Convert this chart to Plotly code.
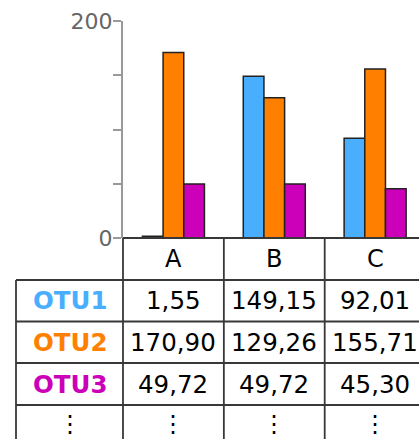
import plotly.graph_objects as go

categories = ["A", "B", "C"]
otu_names = ["OTU1", "OTU2", "OTU3"]
otu1 = [1.55, 149.15, 92.01]
otu2 = [170.90, 129.26, 155.71]
otu3 = [49.72, 49.72, 45.30]
series = [otu1, otu2, otu3]
colors = ["#4aaeff", "#ff8000", "#cc00b8"]
y_tickvals = [0, 50, 100, 150, 200]
y_ticktext = ["0", "", "", "", "200"]

W, H = 419, 439
FONT = "DejaVu Sans"


def py(px):
    return (H - px) / H


def fmt(v):
    return f"{v:.2f}".replace(".", ",")


fig = go.Figure()
for name, vals, col in zip(otu_names, series, colors):
    fig.add_trace(go.Bar(x=categories, y=vals, name=name,
                         marker=dict(color=col, line=dict(color="#222", width=1.5))))

x_dom0 = 123 / W
y_bot, y_top = py(238), py(21)

fig.update_layout(
    template="none",
    width=W, height=H,
    margin=dict(l=0, r=0, t=0, b=0, pad=0),
    plot_bgcolor="white", paper_bgcolor="white",
    barmode="group", bargap=0.385, bargroupgap=0,
    showlegend=False,
    font=dict(family=FONT, color="black"),
    xaxis=dict(domain=[x_dom0, 1], range=[-0.5, 2.435], visible=False,
               showgrid=False, zeroline=False, automargin=False),
    yaxis=dict(domain=[y_bot, y_top], range=[0, 200], showgrid=False, zeroline=False,
               automargin=False,
               tickvals=y_tickvals, ticktext=y_ticktext, ticks="outside",
               ticklen=8, tickwidth=2, tickcolor="#999", showline=True,
               linecolor="#999", linewidth=2, ticklabelstandoff=-4,
               tickfont=dict(family=FONT, size=22, color="#666")),
)

LC = "#383838"
LW = 1.8
rows_px = [238, 280, 321.5, 363, 405, 447]
shapes = []
shapes.append(dict(type="line", xref="x domain", yref="y domain", x0=0, x1=1, y0=0, y1=0,
                   line=dict(color=LC, width=LW)))
for yp in rows_px[1:5]:
    shapes.append(dict(type="line", xref="paper", yref="paper", x0=16 / W, x1=1,
                       y0=py(yp), y1=py(yp), line=dict(color=LC, width=LW)))
shapes.append(dict(type="line", xref="paper", yref="paper", x0=16 / W, x1=16 / W,
                   y0=py(rows_px[1]), y1=0, line=dict(color=LC, width=LW)))
shapes.append(dict(type="line", xref="x domain", yref="paper", x0=0, x1=0,
                   y0=py(rows_px[0]), y1=0, line=dict(color=LC, width=LW)))
for b in [0.5, 1.5]:
    shapes.append(dict(type="line", xref="x", yref="paper", x0=b, x1=b,
                       y0=py(rows_px[0]), y1=0, line=dict(color=LC, width=LW)))
fig.update_layout(shapes=shapes)

ann = []
label_x = (16 + 123) / 2 / W
hdr_c = (rows_px[0] + rows_px[1]) / 2
common = dict(showarrow=False, xanchor="center", yanchor="middle")
for c in categories:
    ann.append(dict(x=c, y=py(hdr_c), xref="x", yref="paper", text=c,
                    font=dict(family=FONT, size=24, color="black"), **common))
for i, (name, vals, col) in enumerate(zip(otu_names, series, colors)):
    yc = py((rows_px[i + 1] + rows_px[i + 2]) / 2)
    ann.append(dict(x=label_x, y=yc, xref="paper", yref="paper", text=f"<b>{name}</b>",
                    font=dict(family=FONT, size=24.5, color=col), **common))
    for c, v in zip(categories, vals):
        ann.append(dict(x=c, y=yc, xref="x", yref="paper", text=fmt(v),
                        font=dict(family=FONT, size=24.5, color="black"), **common))
dots_c = py(424)
ann.append(dict(x=label_x, y=dots_c, xref="paper", yref="paper", text="⋮",
                font=dict(family=FONT, size=24, color="black"), **common))
for c in categories:
    ann.append(dict(x=c, y=dots_c, xref="x", yref="paper", text="⋮",
                    font=dict(family=FONT, size=24, color="black"), **common))
fig.update_layout(annotations=ann)

fig.write_html("out.html", config={"displayModeBar": False},
               post_script="document.body.style.margin='0';document.body.style.overflow='hidden';")
